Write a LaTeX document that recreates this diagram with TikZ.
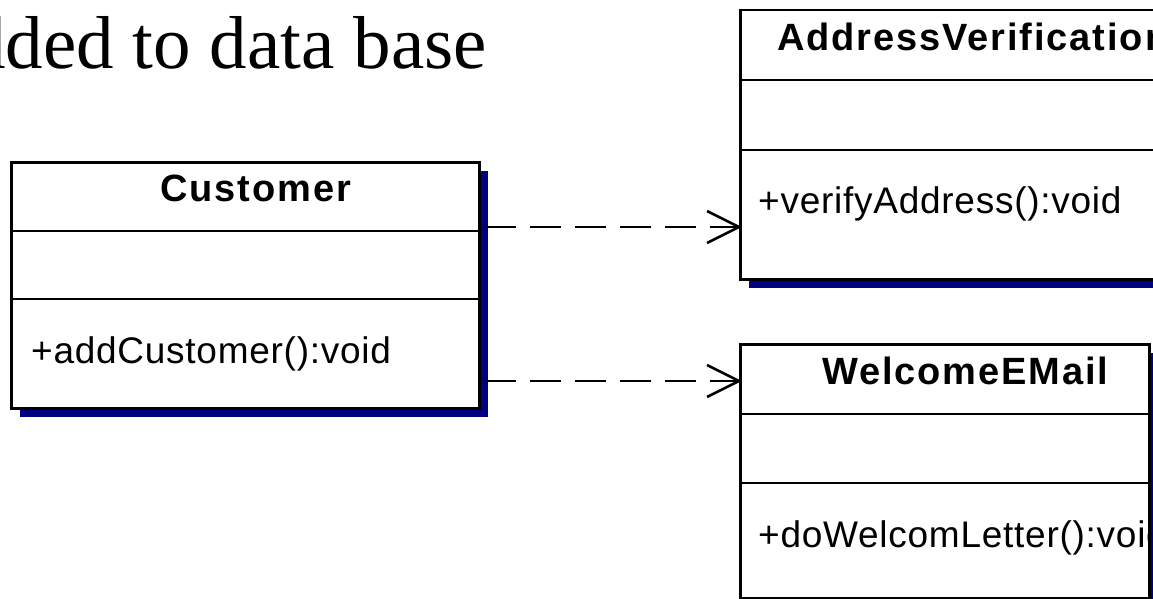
\documentclass[tikz,border=0pt]{standalone}
\usepackage{fontspec}
\setmainfont{Liberation Serif}
\newfontfamily\umlfont[LetterSpace=2]{Liberation Sans}
\newfontfamily\umlheadfont[LetterSpace=5]{Liberation Sans}
\usetikzlibrary{shadows}

\definecolor{shadownavy}{RGB}{0,0,128}

\tikzset{
  classbox/.style={draw=black, line width=2.5pt, fill=white, inner sep=0pt,
    anchor=north west,
    drop shadow={shadow xshift=9pt, shadow yshift=-9pt, fill=shadownavy, opacity=1}},
  divider/.style={draw=black, line width=2.6pt},
  classname/.style={inner sep=0pt, anchor=base west,
    font=\umlheadfont\bfseries\fontsize{38}{42}\selectfont},
  member/.style={inner sep=0pt, anchor=base west,
    font=\umlfont\fontsize{37}{40}\selectfont},
  depline/.style={draw=black, line width=2.6pt, dash pattern=on 31pt off 14pt, dash phase=41pt},
  tipline/.style={draw=black, line width=2.5pt},
  heading/.style={inner sep=0pt, anchor=base east, font=\fontsize{75}{80}\selectfont}
}

\begin{document}
\begin{tikzpicture}[x=1pt, y=-1pt]
\useasboundingbox (0,0) rectangle (1153,599);

% heading line, cut at the left margin
\node[heading] (title) at (487,69) {added to data base};

% Customer class
\node[classbox, minimum width=468pt, minimum height=246pt] (cust) at (10,161) {};
\draw[divider] (cust.west |- 0,231) -- (cust.east |- 0,231);
\draw[divider] (cust.west |- 0,299) -- (cust.east |- 0,299);
\node[classname] (custname) at (160,201) {Customer};
\node[member] (custop) at (31,363) {+addCustomer():void};

% AddressVerification class
\node[classbox, minimum width=431pt, minimum height=269pt] (addr) at (739,9) {};
\draw[divider] (addr.west |- 0,80) -- (addr.east |- 0,80);
\draw[divider] (addr.west |- 0,150) -- (addr.east |- 0,150);
\node[classname] (addrname) at (777,51) {AddressVerification};
\node[member] (addrop) at (758,213) {+verifyAddress():void};

% WelcomeEMail class
\node[classbox, minimum width=409pt, minimum height=254pt] (wel) at (739,343) {};
\draw[divider] (wel.west |- 0,414) -- (wel.east |- 0,414);
\draw[divider] (wel.west |- 0,483) -- (wel.east |- 0,483);
\node[classname] (welname) at (822,384) {WelcomeEMail};
\begin{scope}
  \clip (wel.north west) rectangle (wel.south east);
  \node[member] (welop) at (758,547) {+doWelcomLetter():void};
\end{scope}

% dependencies
\path (addr.west |- 0,227) coordinate (tipA);
\path (wel.west |- 0,381) coordinate (tipW);
\draw[depline] (cust.east |- tipA) -- (tipA);
\draw[depline] (cust.east |- tipW) -- (tipW);
\draw[tipline] ([shift={(-32,-16)}]tipA) -- (tipA) -- ([shift={(-32,16)}]tipA);
\draw[tipline] ([shift={(-32,-16)}]tipW) -- (tipW) -- ([shift={(-32,16)}]tipW);
\end{tikzpicture}
\end{document}
